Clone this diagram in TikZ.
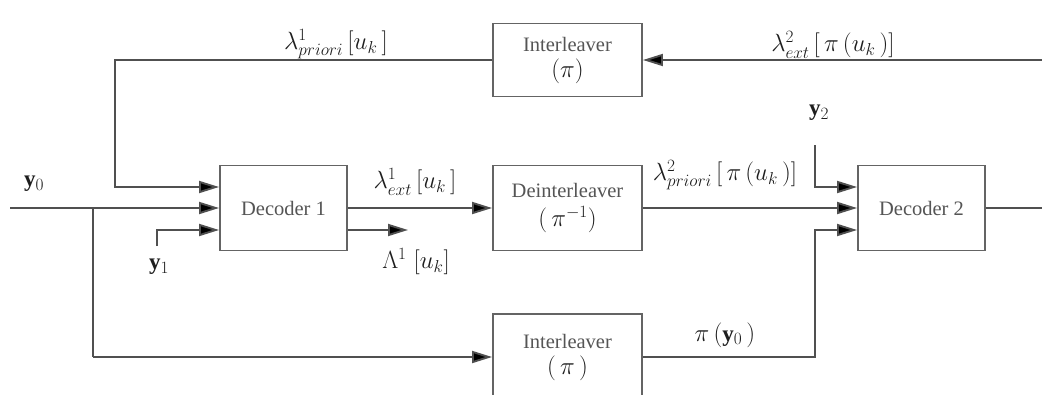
\documentclass[tikz,border=0pt]{standalone}
\usepackage{fontspec}
\setmainfont{Liberation Serif}
\usetikzlibrary{arrows.meta,calc}
\definecolor{ln}{RGB}{80,80,80}
\definecolor{bx}{RGB}{100,100,100}
\definecolor{tx}{RGB}{85,85,85}
\definecolor{lb}{RGB}{30,30,30}
\newcommand{\boxmath}[1]{{\color{lb}\fontsize{23}{25}\selectfont$#1$}}
\begin{document}
\begin{tikzpicture}[x=1pt,y=-1pt,
  wire/.style={draw=ln,line width=1.9pt},
  arr/.style={wire,-{Triangle[length=20pt,width=12pt,fill=black]}},
  blk/.style={draw=bx,line width=1.9pt,fill=none,inner sep=0pt,align=center,
    text=tx,font=\fontsize{20.5}{26}\selectfont},
  lbl/.style={text=lb,inner sep=0pt,font=\fontsize{23}{26}\selectfont}]
\useasboundingbox (0,0) rectangle (1042,394);
\clip (0,0) rectangle (1042,394);
% blocks
\node[blk,minimum width=127pt,minimum height=85pt] (dec1) at (283.5,208) {Decoder 1};
\node[blk,minimum width=149pt,minimum height=85pt] (deint) at (567.5,208) {Deinterleaver\\[3pt]\boxmath{(\,\pi^{-1})}};
\node[blk,minimum width=149pt,minimum height=73pt] (int1) at (567.5,60) {Interleaver\\\boxmath{(\pi)}};
\node[blk,minimum width=149pt,minimum height=86pt] (int2) at (567.5,357) {Interleaver\\\boxmath{(\,\pi\,)}};
\node[blk,minimum width=127pt,minimum height=85pt] (dec2) at (921.5,208) {Decoder 2};
% coordinates
\coordinate (in0) at (10,208);
\coordinate (br) at (93,208);
\coordinate (b2) at (93,357);
\coordinate (fbL) at (115,187);
\coordinate (y1s) at (157,246);
\coordinate (y1c) at (157,230);
\coordinate (lamE) at (408,230);
\coordinate (tr) at (1042,60);
\coordinate (y2s) at (815,145);
\coordinate (y2c) at (815,187);
\coordinate (p0) at (815,230);
\coordinate (out) at (1042,208);
% connectors
\draw[arr] (in0) -- (dec1.west);
\draw[wire] (br) -- (b2);
\draw[arr] (b2) -- (int2.west);
\draw[arr] (int1.west) -| (fbL) -- (fbL -| dec1.west);
\draw[arr] (y1s) -- (y1c) -- (y1c -| dec1.west);
\draw[arr] (dec1.east) -- (deint.west |- dec1.east);
\draw[arr] (dec1.east |- lamE) -- (lamE);
\draw[arr] (deint.east |- dec2.west) -- (dec2.west);
\draw[arr] (tr) -- (int1.east);
\draw[arr] (y2s) -- (y2c) -- (y2c -| dec2.west);
\draw[arr] (int2.east) -| (p0) -- (p0 -| dec2.west);
\draw[wire] (dec2.east) -- (out);
% labels
\node[lbl] (ly0) at (34,184) {$\mathbf{y}_0$};
\node[lbl] (ly1) at (159,267) {$\mathbf{y}_1$};
\node[lbl] (ly2) at (819,113) {$\mathbf{y}_2$};
\node[lbl] (lpri1) at (336,44) {$\lambda^{1}_{priori}\,[u_k\,]$};
\node[lbl] (lext2) at (833,45) {$\lambda^{2}_{ext}\,[\,\pi\,(u_k\,)]$};
\node[lbl] (lext1) at (415,182) {$\lambda^{1}_{ext}\,[u_k\,]$};
\node[lbl] (lLam) at (416,262) {$\Lambda^{1}\;[u_k]$};
\node[lbl] (lpri2) at (725,175) {$\lambda^{2}_{priori}\,[\,\pi\,(u_k\,)]$};
\node[lbl] (lpy0) at (725,335) {$\pi\,(\mathbf{y}_0\,)$};
\end{tikzpicture}
\end{document}
